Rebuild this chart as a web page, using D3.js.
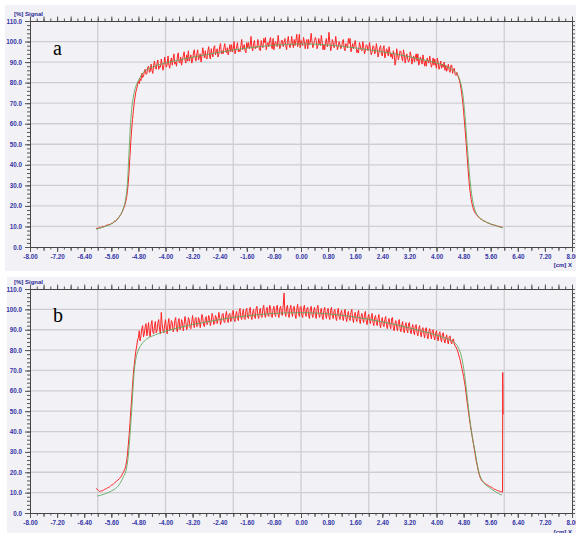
<!DOCTYPE html>
<html><head><meta charset="utf-8">
<script src="https://cdn.jsdelivr.net/npm/d3@7"></script>
<style>body{margin:0;background:#fff}svg{display:block}</style>
</head><body><svg id="c" width="576" height="533"></svg>
<script>
// ---------- data ----------
const xTickValues = [-8,-7.2,-6.4,-5.6,-4.8,-4,-3.2,-2.4,-1.6,-0.8,0,0.8,1.6,2.4,3.2,4,4.8,5.6,6.4,7.2,8];
const yTickValues = [0,10,20,30,40,50,60,70,80,90,100,110];
const gridXValues = [-6,-4,-2,0,2,4,6];
const panelLabels = ["a","b"];
const yAxisTitle = "[%] Signal";
const xAxisTitle = "[cm] X";

const redXStart = -6.05, redXStep = 0.025;

const redA = [
 8.9, 9.2, 9.0, 9.4, 9.6, 9.3, 9.5, 9.9, 10.1, 9.8,
 10.0, 10.4, 10.6, 10.5, 10.9, 11.0, 10.8, 11.1, 11.5, 11.3,
 11.9, 12.2, 12.6, 12.4, 13.0, 13.5, 14.1, 14.5, 15.2, 15.7,
 16.4, 17.2, 18.3, 19.2, 20.5, 22, 24, 27, 31, 37,
 44, 51, 57, 62, 66, 70, 73, 75.5, 77, 79,
 80.5, 79.5, 82, 81, 84.5, 82.5, 83, 85.5, 86.5, 84,
 84.5, 87.5, 88, 85, 85.5, 89, 86, 84.5, 88.5, 90.5,
 87, 86.5, 89.5, 91, 86.5, 88, 87.5, 91.5, 89, 86,
 88, 92.5, 90, 87.5, 89, 93, 88.5, 87, 90.5, 92,
 88.5, 91.5, 94, 89, 90, 88, 92.5, 94.5, 90, 89.5,
 92.5, 88.5, 91, 93, 95, 91, 89.5, 93.5, 90.5, 95.5,
 90.5, 92, 93.5, 89.5, 91, 94.5, 96, 92, 90.5, 94,
 96, 91, 92.5, 94, 90, 93, 97, 94.5, 92, 95.5,
 92, 91.5, 95.5, 97.5, 93, 91.5, 96.5, 94, 92.5, 97,
 98, 93.5, 95, 96.5, 92.5, 94, 97.5, 99, 94, 95.5,
 94, 97, 99, 95.5, 94.5, 97, 93.5, 96, 98.5, 95,
 98.5, 95, 96.5, 100, 94, 95.5, 97.5, 99.5, 95, 96,
 95, 98, 101, 96, 97.5, 98.5, 95.5, 94.5, 99.5, 97,
 99.5, 96.5, 98, 102.5, 97, 95.5, 99, 100.5, 96.5, 97.5,
 97, 101, 99, 96, 95.5, 100.5, 98, 97, 101.5, 99.5,
 102, 96, 98.5, 99.5, 97.5, 100.5, 102, 98, 96.5, 101.5,
 96, 99, 100, 98, 97.5, 103, 99.5, 96.5, 98, 100.5,
 100.5, 97.5, 99.5, 101.5, 98, 96, 100, 102.5, 98.5, 97,
 98.5, 102.5, 99, 97, 101, 98, 100.5, 103.5, 97.5, 99,
 103.5, 97, 100.5, 99, 98, 102, 100, 96.5, 99.5, 101,
 96.5, 101, 98.5, 99.5, 104, 100, 97, 98.5, 100.5, 102,
 100.5, 96.5, 98, 101.5, 99, 98, 103, 100, 96, 98.5,
 96, 100, 101.5, 97.5, 99, 104.5, 100, 95.5, 97.5, 101,
 99.5, 97, 98.5, 102.5, 99, 96, 97.5, 100, 98.5, 96.5,
 97.5, 100, 101, 96.5, 95.5, 99, 98, 97, 101.5, 99,
 101.5, 95, 97, 99, 96.5, 98.5, 100.5, 97.5, 94.5, 96,
 94.5, 99.5, 98, 96, 95.5, 100, 97.5, 94, 95.5, 98.5,
 98, 95.5, 96.5, 99.5, 96, 93.5, 95, 98, 97.5, 94,
 95, 99, 96.5, 92.5, 94.5, 97, 98, 94, 93, 96.5,
 98, 92, 94, 96.5, 95.5, 93, 97.5, 95, 92.5, 94,
 91.5, 95.5, 94, 88.5, 90.5, 96.5, 94, 91, 93, 95.5,
 95, 92, 90.5, 96, 93.5, 89.5, 92, 94, 91.5, 90,
 91, 95, 93, 89, 91.5, 93, 90, 92.5, 94, 90.5,
 94, 88.5, 90, 92.5, 91, 89, 93.5, 91, 88, 90.5,
 88, 92, 90.5, 89.5, 93, 90, 87.5, 89, 92, 88.5,
 91.5, 88.5, 87, 92, 89.5, 86.5, 88, 90.5, 87, 89,
 87.5, 90, 86, 88.5, 85.5, 87, 89, 86, 85, 88.5,
 88.5, 84.5, 86.5, 87, 84, 83.5, 85, 83.5, 82.5, 81,
 79.5, 77, 74, 70.5, 66, 61, 56, 50.5, 45, 39.5,
 34, 29.5, 26, 23, 21, 19.3, 18, 17, 16.3, 15.8,
 15.2, 14.9, 14.6, 14.0, 13.7, 13.6, 13.3, 12.8, 12.6, 12.5,
 12.4, 12.0, 11.8, 11.7, 11.6, 11.3, 11.1, 11.0, 10.9, 10.8,
 10.6, 10.6, 10.5, 10.3, 10.1, 10.1, 10.0, 9.8, 9.7, 9.7,
 9.6
];

const greenAX = [-6.05,-5.9,-5.7,-5.5,-5.35,-5.25,-5.18,-5.12,-5.08,-5.04,-5.0,-4.95,-4.88,-4.8,-4.7,-4.6,-4.4,-4.2,-4.0,-3.6,-3.2,-2.8,-2.4,-2.0,-1.6,-1.2,-0.8,-0.4,0,0.4,0.8,1.2,1.6,2.0,2.4,2.8,3.2,3.6,4.0,4.2,4.4,4.55,4.65,4.72,4.78,4.84,4.9,4.96,5.02,5.08,5.16,5.27,5.45,5.65,5.85,5.96];
const greenAY = [8.6,9.4,10.5,12.3,15.0,18.5,23,32,45,58,67,73,78,81,84,85.8,87.5,88.7,89.6,91.0,92.4,93.6,94.8,95.9,96.8,97.6,98.2,98.6,98.8,98.7,98.3,97.7,96.9,96.0,95.0,93.9,92.6,91.1,89.6,88.5,87.0,85.3,83,79.5,74,64,51,38,28,21.5,17,14.2,12.3,10.9,9.8,9.3];

const redB = [
 12.0, 11.8, 11.4, 11.0, 10.6, 10.7, 10.8, 10.9, 11.0, 11.3,
 11.6, 11.7, 11.9, 12.2, 12.5, 12.6, 12.8, 13.2, 13.6, 13.8,
 14.0, 14.5, 14.9, 15.2, 15.6, 15.9, 16.2, 16.7, 17.1, 17.6,
 18.2, 19.0, 19.8, 20.6, 21.5, 23, 25, 28.5, 33, 38,
 44, 50, 56, 62, 68, 72.5, 76, 79.5, 82, 85,
 86, 89.5, 84.5, 87, 90.5, 92, 86.5, 88, 91.5, 93,
 87, 90, 93.5, 88, 86.5, 92.5, 94.5, 89, 88, 92,
 94, 88.5, 89.5, 93.5, 95, 90, 88, 98.5, 93, 89.5,
 88.5, 92.5, 95, 90.5, 88, 93, 95.5, 89.5, 91, 94.5,
 93.5, 89, 90.5, 94.5, 96, 90.5, 89, 94, 95.5, 90,
 91, 95, 93.5, 89.5, 92.5, 96.5, 94, 90, 91.5, 96,
 95, 91, 90.5, 94, 97, 93, 91, 95.5, 96, 91.5,
 92, 96, 94.5, 91, 94, 97.5, 96, 92, 91.5, 95.5,
 96.5, 92.5, 93.5, 97, 95.5, 92, 94, 98, 96.5, 92.5,
 93, 97, 96, 93, 95, 98.5, 96, 92.5, 94.5, 97.5,
 98, 94, 93.5, 97, 99, 95, 93.5, 97.5, 98, 94,
 94.5, 98.5, 99.5, 95, 94, 97.5, 99, 95.5, 94.5, 99,
 100.5, 96, 95, 98.5, 100, 95.5, 95, 99.5, 100.5, 96,
 95.5, 99.5, 101, 96.5, 95, 98.5, 100, 96, 95.5, 100.5,
 101.5, 97, 95.5, 99, 100.5, 96.5, 96, 100.5, 102, 97.5,
 96, 99.5, 101, 97, 96.5, 102, 101, 96.5, 96, 100,
 101.5, 97.5, 96.5, 101, 102, 97.5, 96, 100.5, 101.5, 97.5,
 97, 102, 108, 98.5, 96.5, 100.5, 102, 97.5, 96, 100.5,
 102, 98, 96.5, 101, 101.5, 97.5, 95.5, 100, 102.5, 98.5,
 96.5, 101, 101.5, 97, 96, 100.5, 102, 98, 96.5, 100.5,
 101, 97, 95.5, 100, 101.5, 97.5, 96, 99.5, 101, 97,
 95.5, 100.5, 102, 97.5, 96, 99, 100.5, 96.5, 95, 99.5,
 101, 97, 95.5, 99, 100.5, 96.5, 95, 99.5, 101, 97,
 95.5, 99, 100, 96, 94.5, 98.5, 100.5, 96.5, 95, 98.5,
 99.5, 96, 94.5, 98, 100, 96, 94, 97.5, 99, 95.5,
 94.5, 98.5, 100, 95.5, 93.5, 97, 98.5, 95.5, 94, 98,
 99.5, 95, 93, 96.5, 98, 95, 93.5, 97.5, 99, 94.5,
 92.5, 96, 97.5, 94.5, 93, 96.5, 98, 93.5, 92, 96,
 97, 93.5, 92, 95.5, 97.5, 93, 91, 94.5, 96, 92.5,
 91.5, 95, 96.5, 92, 90.5, 94, 95.5, 92, 90.5, 95.5,
 96, 91, 89.5, 93, 94.5, 91, 89.5, 94, 95, 90.5,
 89, 92.5, 94, 90, 88.5, 92, 93.5, 90, 88.5, 93,
 93.5, 89.5, 88, 91, 92.5, 89, 87.5, 92, 92.5, 88.5,
 87, 90.5, 92, 88.5, 86.5, 90, 91, 88, 86, 90.5,
 91, 87, 85.5, 89, 90.5, 87.5, 85.5, 89.5, 90, 86.5,
 85, 88.5, 89.5, 86, 84.5, 88, 89, 85.5, 84, 88,
 88.5, 85, 83.5, 86, 87.5, 84.5, 83, 86.5, 87, 84,
 83, 85, 85.5, 83, 82, 81.5, 80.5, 79.5, 78, 76.5,
 75, 73, 71, 69, 67, 64.5, 62, 58.5, 55, 52,
 49, 46, 43, 40.5, 38, 35.5, 33, 30.5, 28, 25.5,
 23.5, 21.5, 19.5, 18.2, 17, 16.2, 15.6, 15.2, 14.9, 14.6,
 14.3, 14.0, 13.8, 13.5, 13.2, 13.0, 12.8, 12.6, 12.4, 12.0,
 11.7, 11.6, 11.5, 11.2, 11.0, 10.9, 10.8, 10.6, 10.5, 10.3,
 10.2
];
const redBTailX = [5.955, 5.96, 5.965, 5.97, 5.978];
const redBTailY = [69, 61, 50, 49, 48.5];

const greenBX = [-6.02,-5.8,-5.6,-5.4,-5.25,-5.15,-5.1,-5.05,-5.0,-4.96,-4.92,-4.87,-4.8,-4.7,-4.55,-4.3,-4.0,-3.6,-3.2,-2.8,-2.4,-2.0,-1.6,-1.2,-0.8,-0.4,0,0.4,0.8,1.2,1.6,2.0,2.4,2.8,3.2,3.6,4.0,4.3,4.5,4.65,4.75,4.82,4.88,4.94,5.0,5.06,5.13,5.2,5.27,5.35,5.42,5.57,5.72,5.93];
const greenBY = [8.3,9.3,10.8,13.2,17.5,22,28,38,50,61,70,76,80,83,85.5,87.5,89.3,91.0,92.6,93.8,95.0,96.0,96.8,97.5,98.0,98.3,98.4,98.2,97.8,97.1,96.2,95.1,93.9,92.5,90.9,89.2,87.4,85.6,84.0,81,76,69,61,52,44,37,31,24,19,16,14.3,12.4,10.6,8.8];

// ---------- drawing ----------
const svg = d3.select("#c");
const x = d3.scaleLinear().domain([-8, 8]).range([30, 572]);
const minor02 = d3.range(0, 81).map(i => -8 + i * 0.2);
const minor04 = d3.range(0, 41).map(i => -8 + i * 0.4);
const yMinor = d3.range(0, 56).map(i => i * 2);

const panels = [
  {bg:[5,5,571,266], y0:247, y1:21, red:redA, gx:greenAX, gy:greenAY, tail:null, label:panelLabels[0], ly:55, titleY:16, xTitleY:267},
  {bg:[7,277,569,256], y0:513, y1:289, red:redB, gx:greenBX, gy:greenBY, tail:[redBTailX, redBTailY], label:panelLabels[1], ly:322, titleY:284, xTitleY:534}
];

const labelColor = "#3535a6";
const fontFam = "'Liberation Sans', Arial, sans-serif";

function styleAxis(g, size) {
  g.attr("font-family", fontFam).attr("font-size", size).attr("font-weight", "bold");
  g.selectAll("text").attr("fill", labelColor);
  g.selectAll("line").attr("stroke", "#555");
  g.select(".domain").attr("stroke", "#444");
}

panels.forEach(p => {
  const y = d3.scaleLinear().domain([0, 110]).range([p.y0, p.y1]);
  const g = svg.append("g");
  g.append("rect").attr("x", p.bg[0]).attr("y", p.bg[1]).attr("width", p.bg[2]).attr("height", p.bg[3]).attr("fill", "#f1f1f6");

  // grid
  g.append("g").selectAll("line").data(yTickValues.filter(v => v > 0 && v < 110)).join("line")
    .attr("x1", x(-8)).attr("x2", x(8)).attr("y1", d => y(d)).attr("y2", d => y(d))
    .attr("stroke", "#cfcfd3").attr("stroke-width", 1.3);
  g.append("g").selectAll("line").data(gridXValues).join("line")
    .attr("x1", d => x(d)).attr("x2", d => x(d)).attr("y1", y(0)).attr("y2", y(110))
    .attr("stroke", "#cfcfd3").attr("stroke-width", 1.3);

  // top axis ticks
  const top = g.append("g").attr("transform", `translate(0,${y(110)})`);
  top.append("g").call(d3.axisTop(x).tickValues(minor02).tickSize(2.5).tickFormat("").tickSizeOuter(0)).call(s => styleAxis(s, 6));
  top.append("g").call(d3.axisTop(x).tickValues(minor04).tickSize(4.5).tickFormat("").tickSizeOuter(0)).call(s => styleAxis(s, 6));

  // right axis ticks
  const right = g.append("g").attr("transform", `translate(${x(8)},0)`);
  right.append("g").call(d3.axisRight(y).tickValues(yMinor).tickSize(3).tickFormat("").tickSizeOuter(0)).call(s => styleAxis(s, 6));

  // bottom axis
  const bot = g.append("g").attr("transform", `translate(0,${y(0)})`);
  bot.append("g").call(d3.axisBottom(x).tickValues(minor02).tickSize(2.5).tickFormat("").tickSizeOuter(0)).call(s => styleAxis(s, 6));
  bot.append("g").call(d3.axisBottom(x).tickValues(minor04).tickSize(4).tickFormat("").tickSizeOuter(0)).call(s => styleAxis(s, 6));
  bot.append("g").call(d3.axisBottom(x).tickValues(xTickValues).tickSize(5).tickPadding(3).tickFormat(d => d.toFixed(2)).tickSizeOuter(0)).call(s => styleAxis(s, 6.3));

  // left axis
  const left = g.append("g").attr("transform", `translate(${x(-8)},0)`);
  left.append("g").call(d3.axisLeft(y).tickValues(yMinor).tickSize(3).tickFormat("").tickSizeOuter(0)).call(s => styleAxis(s, 6));
  left.append("g").call(d3.axisLeft(y).tickValues(yTickValues).tickSize(5).tickPadding(3).tickFormat(d => d.toFixed(1)).tickSizeOuter(0)).call(s => styleAxis(s, 6.3));

  // titles
  g.append("text").attr("x", 14).attr("y", p.titleY).text(yAxisTitle)
    .attr("font-family", fontFam).attr("font-size", 6).attr("font-weight", "bold").attr("fill", "#2a2a92");
  g.append("text").attr("x", 572).attr("y", p.xTitleY).attr("text-anchor", "end").text(xAxisTitle)
    .attr("font-family", fontFam).attr("font-size", 6).attr("font-weight", "bold").attr("fill", "#2a2a92");

  // lines
  const line = d3.line().x(d => x(d[0])).y(d => y(d[1]));
  const redPts = p.red.map((v, i) => [redXStart + i * redXStep, v]);
  if (p.tail) p.tail[0].forEach((tx, i) => redPts.push([tx, p.tail[1][i]]));
  g.append("path").datum(redPts).attr("d", line).attr("fill", "none")
    .attr("stroke", "#ff2424").attr("stroke-width", 1).attr("stroke-linejoin", "round");
  const greenPts = p.gx.map((gx, i) => [gx, p.gy[i]]);
  g.append("path").datum(greenPts).attr("d", d3.line().curve(d3.curveMonotoneX).x(d => x(d[0])).y(d => y(d[1])))
    .attr("fill", "none").attr("stroke", "#5aa85a").attr("stroke-width", 1).attr("stroke-opacity", 0.85);

  // panel letter
  g.append("text").attr("x", 53).attr("y", p.ly).text(p.label)
    .attr("font-family", "'Liberation Serif', 'Times New Roman', serif").attr("font-size", 20).attr("fill", "#000");
});
</script>
</body></html>
